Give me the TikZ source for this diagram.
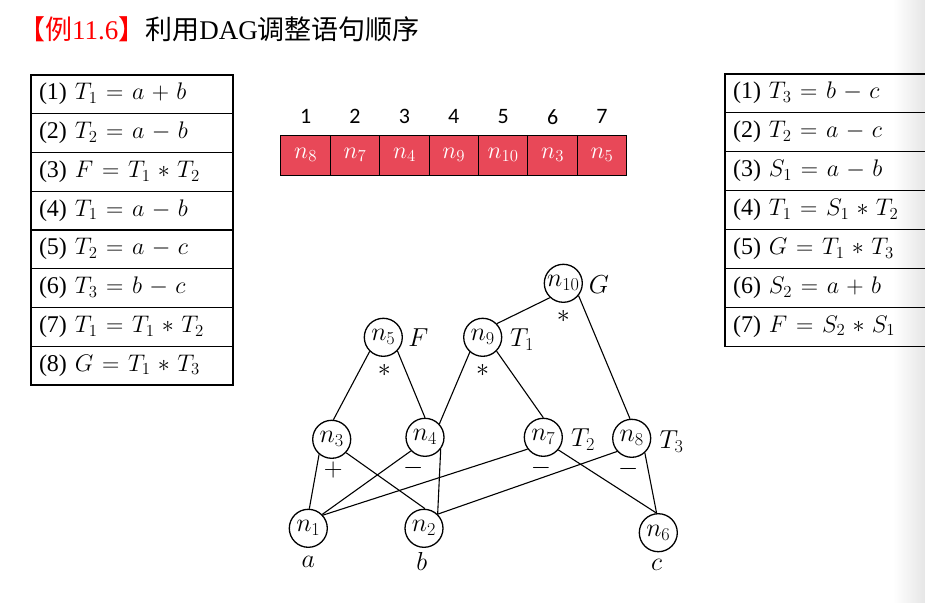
\RequirePackage{fix-cm}
\documentclass[tikz,border=0pt]{standalone}
\usepackage{fontspec}
\setmainfont{Liberation Serif}
\setsansfont{Carlito}
\newfontfamily\cjk{Noto Sans CJK SC}
\usetikzlibrary{positioning}
\definecolor{cellred}{HTML}{E84858}
\definecolor{titlered}{HTML}{FF0000}
\definecolor{shadegray}{HTML}{E6E6E6}
\medmuskip=5.5mu plus 2mu minus 2mu
\thickmuskip=6.5mu plus 3mu minus 1mu

\begin{document}
\begin{tikzpicture}[
  x=1pt, y=-1pt,
  row/.style={draw, line width=1.1pt, minimum height=38.8pt, text width=186pt,
              inner xsep=8pt, inner ysep=0pt, align=left,
              text height=17pt, text depth=6pt,
              font=\fontsize{24}{28}\selectfont},
  cell/.style={draw, line width=1pt, fill=cellred, minimum width=49.4pt,
               minimum height=40pt, inner sep=0pt, text=white,
               font=\fontsize{24}{28}\selectfont},
  num/.style={font=\sffamily\fontsize{22}{26}\selectfont, inner sep=0pt},
  vtx/.style={circle, draw, line width=1.3pt, minimum size=38pt, inner sep=0pt,
              fill=white, font=\fontsize{26}{30}\selectfont},
  tag/.style={inner sep=0pt, font=\fontsize{26}{30}\selectfont},
  link/.style={line width=1.1pt},
]
\useasboundingbox (0,0) rectangle (925,602);
\fill[white] (0,0) rectangle (925,602);
\clip (0,0) rectangle (925,602);
\shade[left color=white, right color=shadegray] (893,0) rectangle (925,602);

% ---------------- title ----------------
\node[anchor=base west, inner sep=0pt, font=\fontsize{27}{31}\selectfont] (title) at (18,40)
  {\textcolor{titlered}{{\cjk 【例}11.6{\cjk 】}}{\cjk 利用}DAG{\cjk 调整语句顺序}};

% ---------------- original block (left) ----------------
\node[row] (L1) at (132,94.4)  {(1) $T_1=a+b$};
\node[row] (L2) at (132,133.1) {(2) $T_2=a-b$};
\node[row] (L3) at (132,171.9) {(3) $F=T_1*T_2$};
\node[row] (L4) at (132,210.6) {(4) $T_1=a-b$};
\node[row] (L5) at (132,249.4) {(5) $T_2=a-c$};
\node[row] (L6) at (132,288.1) {(6) $T_3=b-c$};
\node[row] (L7) at (132,326.9) {(7) $T_1=T_1*T_2$};
\node[row] (L8) at (132,365.6) {(8) $G=T_1*T_3$};

% ---------------- reordered block (right, runs off the page) ----------------
\node[row] (R1) at (826,93.4)  {(1) $T_3=b-c$};
\node[row] (R2) at (826,132.3) {(2) $T_2=a-c$};
\node[row] (R3) at (826,171.2) {(3) $S_1=a-b$};
\node[row] (R4) at (826,210.1) {(4) $T_1=S_1*T_2$};
\node[row] (R5) at (826,249.0) {(5) $G=T_1*T_3$};
\node[row] (R6) at (826,287.9) {(6) $S_2=a+b$};
\node[row] (R7) at (826,326.8) {(7) $F=S_2*S_1$};

% ---------------- node order list ----------------
\node[cell] (C1) at (305.6,155) {$n_8$};
\node[cell] (C2) at (355.0,155) {$n_7$};
\node[cell] (C3) at (404.4,155) {$n_4$};
\node[cell] (C4) at (453.8,155) {$n_9$};
\node[cell] (C5) at (503.2,155) {$n_{10}$};
\node[cell] (C6) at (552.6,155) {$n_3$};
\node[cell] (C7) at (602.0,155) {$n_5$};

\node[num] (K1) at (305.6,116.7) {1};
\node[num] (K2) at (355.0,116.7) {2};
\node[num] (K3) at (404.4,116.7) {3};
\node[num] (K4) at (453.8,116.7) {4};
\node[num] (K5) at (503.2,116.7) {5};
\node[num] (K6) at (552.6,116.7) {6};
\node[num] (K7) at (602.0,116.7) {7};

% ---------------- DAG ----------------
\node[vtx] (n10) at (563.3,283.3) {$n_{10}$};
\node[vtx] (n5)  at (383.3,337.3) {$n_5$};
\node[vtx] (n9)  at (482.7,337.3) {$n_9$};
\node[vtx] (n3)  at (331.7,439.3) {$n_3$};
\node[vtx] (n4)  at (425.0,437.3) {$n_4$};
\node[vtx] (n7)  at (543.3,437.3) {$n_7$};
\node[vtx] (n8)  at (631.7,438.3) {$n_8$};
\node[vtx] (n1)  at (308.3,528.3) {$n_1$};
\node[vtx] (n2)  at (424.0,528.3) {$n_2$};
\node[vtx] (n6)  at (658.3,532.7) {$n_6$};

\draw[link] (n10.-133) -- (n9.44);
\draw[link] (n10.-39)  -- (n8.95);
\draw[link] (n5.-134)  -- (n3.85);
\draw[link] (n5.-44)   -- (n4.90);
\draw[link] (n9.-131)  -- (n4.43);
\draw[link] (n9.-45)   -- (n7.90);
\draw[link] (n3.-130)  -- (n1.87);
\draw[link] (n3.-43)   -- (n2.87);
\draw[link] (n4.-136)  -- (n1.45);
\draw[link] (n4.-37)   -- (n2.46);
\draw[link] (n7.-143)  -- (n1.42);
\draw[link] (n7.-40)   -- (n6.95);
\draw[link] (n8.-138)  -- (n2.46);
\draw[link] (n8.-48)   -- (n6.95);

% attached identifiers
\node[tag] (idG)  at (599.0,285.0) {$G$};
\node[tag] (idF)  at (418.3,337.3) {$F$};
\node[tag] (idT1) at (522.0,340.0) {$T_1$};
\node[tag] (idT2) at (583.0,440.0) {$T_2$};
\node[tag] (idT3) at (671.5,441.7) {$T_3$};
\node[tag] (ida)  at (308.3,561.7) {$a$};
\node[tag] (idb)  at (421.7,561.7) {$b$};
\node[tag] (idc)  at (656.7,565.0) {$c$};

% operators under the interior nodes
\node[tag] (op10) at (563.3,316.7) {$*$};
\node[tag] (op5)  at (384.3,370.0) {$*$};
\node[tag] (op9)  at (482.7,370.7) {$*$};
\node[tag] (op3)  at (333.3,470.0) {$+$};
\node[tag] (op4)  at (413.3,468.3) {$-$};
\node[tag] (op7)  at (541.0,468.3) {$-$};
\node[tag] (op8)  at (628.3,469.3) {$-$};

\end{tikzpicture}
\end{document}
